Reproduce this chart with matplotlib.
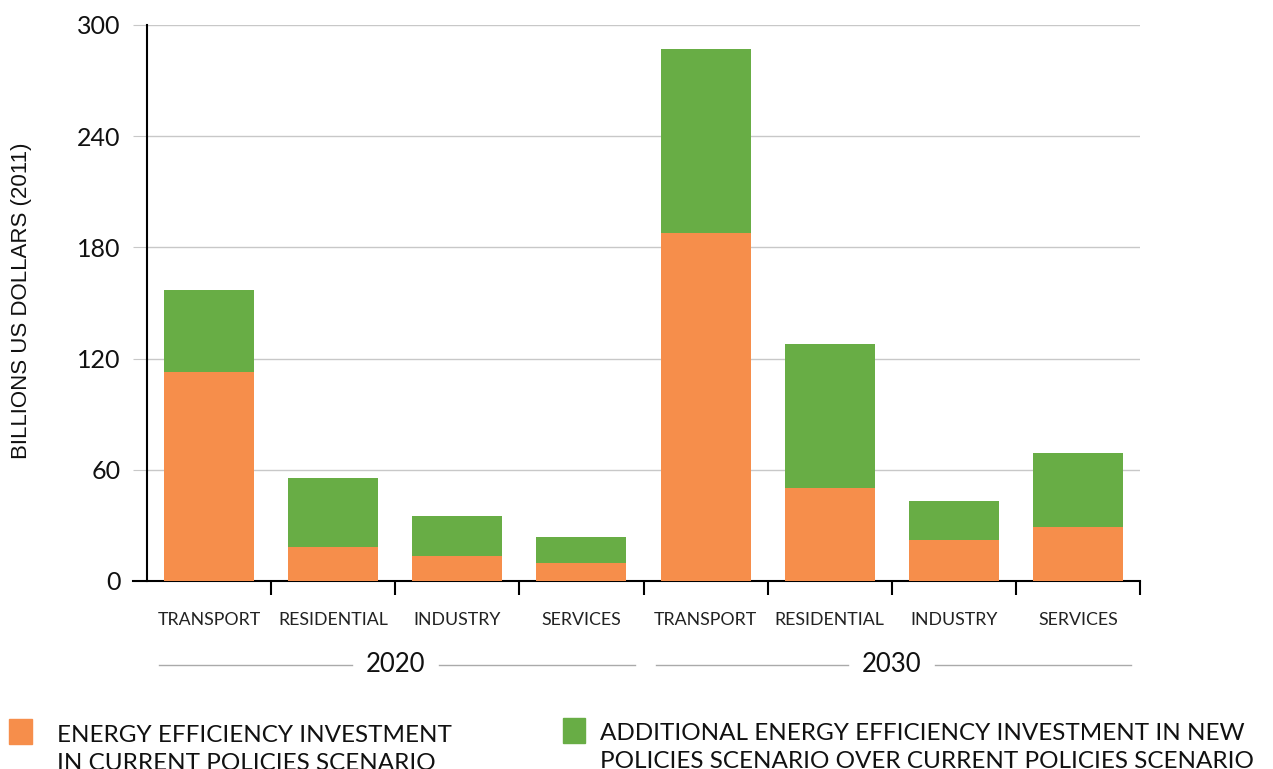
import matplotlib.pyplot as plt
import matplotlib.transforms as mtransforms
from matplotlib.patches import Rectangle
import numpy as np

# Data (billions US dollars, 2011)
sectors = ["TRANSPORT", "RESIDENTIAL", "INDUSTRY", "SERVICES"]
years = ["2020", "2030"]
current_2020 = [113, 18.5, 13.5, 9.5]
current_2030 = [188, 50, 22, 29]
additional_2020 = [44, 37, 21.5, 14.5]
additional_2030 = [99, 78, 21, 40]
y_ticks = [0, 60, 120, 180, 240, 300]
legend_current = ["ENERGY EFFICIENCY INVESTMENT", "IN CURRENT POLICIES SCENARIO"]
legend_additional = ["ADDITIONAL ENERGY EFFICIENCY INVESTMENT IN NEW",
                     "POLICIES SCENARIO OVER CURRENT POLICIES SCENARIO"]

ORANGE = "#f68e4b"
GREEN = "#68ad45"
GRID = "#c8c8c8"
TEXT = "#111111"

plt.rcParams["font.family"] = ["Lato", "DejaVu Sans"]

W, H = 1273, 769
fig = plt.figure(figsize=(W / 100, H / 100), dpi=100)
ax = fig.add_axes([147 / W, 1 - 581 / H, 993 / W, 556 / H])

current = current_2020 + current_2030
additional = additional_2020 + additional_2030
x = np.arange(len(current)) + 0.5

ax.bar(x, current, width=0.725, color=ORANGE, zorder=3)
ax.bar(x, additional, width=0.725, bottom=current, color=GREEN, zorder=3)

ax.set_xlim(0, len(current))
ax.set_ylim(0, 300)
ax.set_yticks(y_ticks)
ax.set_yticklabels([str(v) for v in y_ticks], fontsize=18, color=TEXT)
ax.yaxis.grid(True, color=GRID, linewidth=1, zorder=0)
ax.tick_params(axis="y", length=10, color=GRID, pad=9)

ax.set_xticks(x)
ax.set_xticklabels(sectors * 2, fontsize=12.8, color="#222222")
ax.tick_params(axis="x", length=0, pad=22)
ax.set_xticks(np.arange(1, len(current) + 1), minor=True)
ax.tick_params(axis="x", which="minor", length=10, width=1.5, color="black")

for side in ["top", "right"]:
    ax.spines[side].set_visible(False)
ax.spines["left"].set_linewidth(1.5)
ax.spines["bottom"].set_linewidth(1.5)
ax.spines["bottom"].set_bounds(-0.11, len(current))

fig.text(22 / W, 1 - 301 / H, "BILLIONS US DOLLARS (2011)", rotation=90,
         fontsize=16, family="Liberation Sans", ha="center", va="center", color=TEXT)

# Year group labels with lines underneath the sector labels
trans = mtransforms.blended_transform_factory(ax.transData, ax.transAxes)
y_grp = (581 - 665) / 556
for i, yr in enumerate(years):
    start, end = i * 4, (i + 1) * 4
    mid = (start + end) / 2
    ax.text(mid, y_grp, yr, transform=trans, ha="center", va="center",
            fontsize=18.5, color=TEXT)
    ax.plot([start + 0.1, mid - 0.35], [y_grp, y_grp], transform=trans,
            color="#aaaaaa", linewidth=1, clip_on=False)
    ax.plot([mid + 0.35, end - 0.07], [y_grp, y_grp], transform=trans,
            color="#aaaaaa", linewidth=1, clip_on=False)

# Legend at the bottom
fig.patches.append(Rectangle((9 / W, 1 - 744 / H), 23 / W, 25 / H,
                             transform=fig.transFigure, color=ORANGE))
for k, line in enumerate(legend_current):
    fig.text(57 / W, 1 - (742 + 28 * k) / H, line, fontsize=17.5,
             va="baseline", ha="left", color=TEXT)
fig.patches.append(Rectangle((563 / W, 1 - 743 / H), 22 / W, 25 / H,
                             transform=fig.transFigure, color=GREEN))
for k, line in enumerate(legend_additional):
    fig.text(600 / W, 1 - (740 + 28 * k) / H, line, fontsize=17.5,
             va="baseline", ha="left", color=TEXT)

fig.savefig("out.png", dpi=100)
